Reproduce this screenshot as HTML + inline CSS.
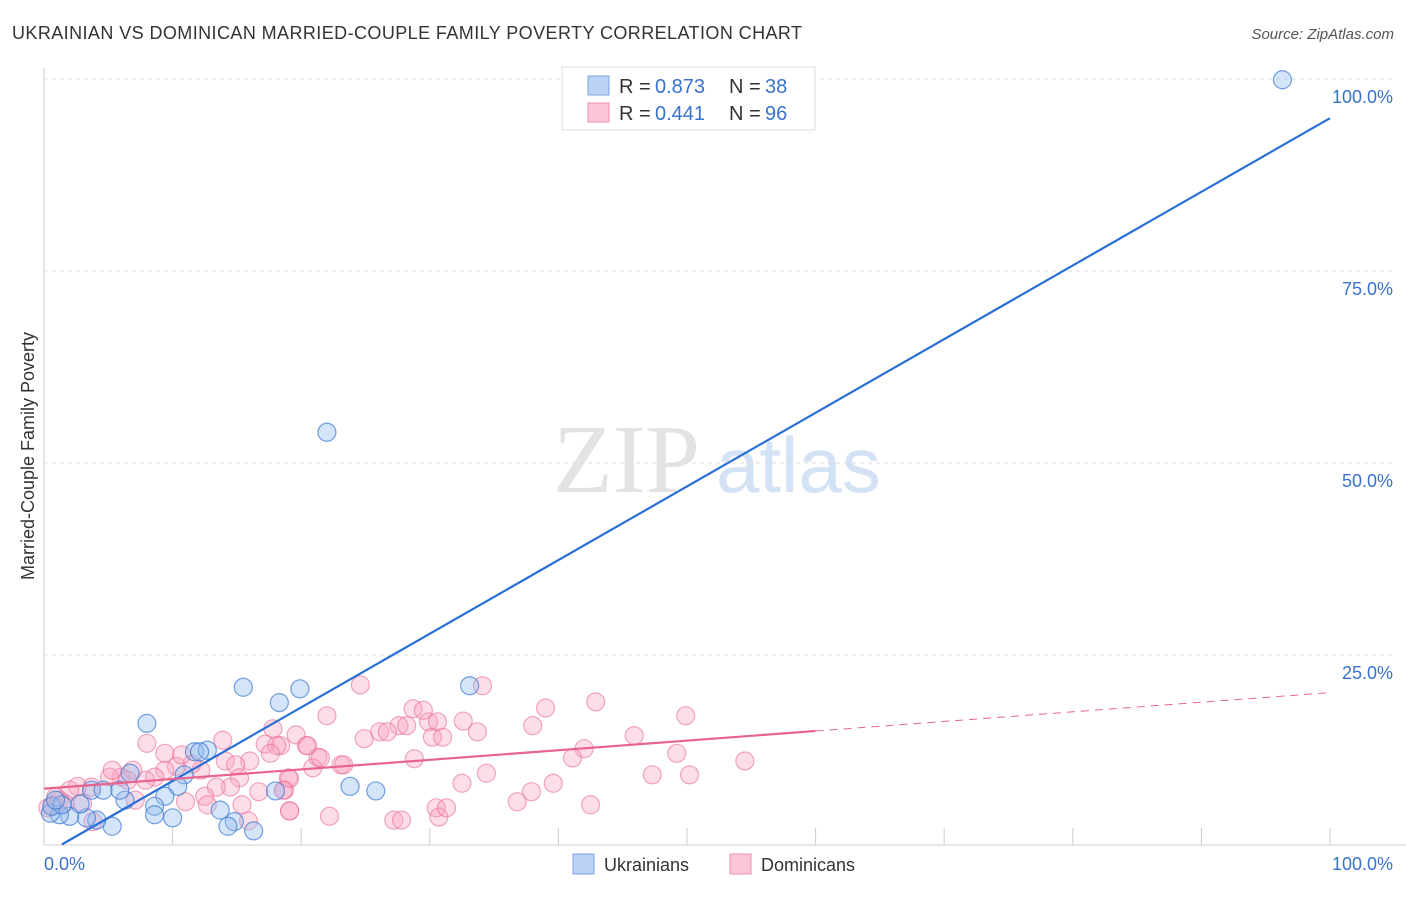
<!DOCTYPE html>
<html><head><meta charset="utf-8"><style>
body{margin:0;background:#fff;width:1406px;height:892px;overflow:hidden;font-family:"Liberation Sans",sans-serif}
</style></head><body>
<svg id="c" width="1406" height="892" xmlns="http://www.w3.org/2000/svg">
<text x="12" y="39" font-size="18" textLength="790" fill="#333">UKRAINIAN VS DOMINICAN MARRIED-COUPLE FAMILY POVERTY CORRELATION CHART</text>
<text x="1394" y="39" font-size="15" fill="#555" font-style="italic" text-anchor="end">Source: ZipAtlas.com</text>
<text transform="translate(34,456) rotate(-90)" font-size="18" fill="#333" text-anchor="middle">Married-Couple Family Poverty</text>
<g>
<text x="553" y="492" font-size="98" font-family="Liberation Serif,serif" fill="#e3e3e3">ZIP</text>
<text x="716" y="492" font-size="78" fill="#d3e2f5">atlas</text>
</g>
<g id="grid"></g><g id="axes"></g><g id="pts"></g><g id="trend"></g>
<g>
<rect x="562" y="67" width="253" height="63" fill="#fff" stroke="#ddd"/>
<rect x="588" y="76" width="21" height="19" fill="#b9d2f5" stroke="#7da6e0"/>
<rect x="588" y="103" width="21" height="19" fill="#fbc6d6" stroke="#f090ae"/>
<g font-size="20">
<text x="619" y="93" fill="#333">R =</text><text x="655" y="93" fill="#3a72d0">0.873</text>
<text x="729" y="93" fill="#333">N =</text><text x="765" y="93" fill="#3a72d0">38</text></g>
<g font-size="20">
<text x="619" y="120" fill="#333">R =</text><text x="655" y="120" fill="#3a72d0">0.441</text>
<text x="729" y="120" fill="#333">N =</text><text x="765" y="120" fill="#3a72d0">96</text></g>
</g>
<g>
<rect x="573" y="854" width="21" height="20" fill="#b9d2f5" stroke="#7da6e0"/>
<text x="604" y="871" font-size="18" fill="#333">Ukrainians</text>
<rect x="730" y="854" width="21" height="20" fill="#fbc6d6" stroke="#f090ae"/>
<text x="761" y="871" font-size="18" fill="#333">Dominicans</text>
</g>
</svg>
<script>
const yTicks=[25,50,75,100];
const yTickLabels=["25.0%","50.0%","75.0%","100.0%"];
const ukrX=[96.3,22.0,15.5,19.9,18.3,33.1,8.0,11.7,12.7,12.1,23.8,25.8,18.0,10.9,10.4,9.4,8.6,8.6,10.0,13.7,14.8,14.3,16.3,5.3,4.1,3.3,2.0,1.2,0.5,0.6,1.4,2.8,3.7,6.3,6.7,4.6,0.9,5.9];
const ukrY=[99.9,54.0,20.8,20.6,18.8,21.0,16.1,12.4,12.6,12.4,7.9,7.3,7.3,9.4,7.9,6.6,5.3,4.2,3.8,4.8,3.3,2.7,2.1,2.7,3.5,3.8,4.0,4.2,4.4,5.3,5.5,5.6,7.4,6.1,9.6,7.4,6.1,7.4];
const domX=[24.6,34.1,22.0,28.7,29.9,27.6,26.1,24.9,30.2,32.6,33.7,39.0,38.0,42.9,49.9,45.9,42.0,41.1,49.2,54.5,47.3,50.2,39.6,37.9,36.8,42.5,34.4,32.5,28.8,30.5,30.7,27.2,22.2,19.1,19.0,18.7,23.1,20.9,21.3,19.6,20.4,18.4,8.0,13.9,17.8,17.2,18.1,17.6,20.5,21.5,23.3,26.7,28.2,29.5,30.6,31.0,16.0,14.1,14.9,19.1,18.6,16.7,15.2,14.5,13.4,12.5,12.7,15.4,15.9,19.1,27.8,31.3,11.0,12.2,11.5,10.3,9.4,8.6,7.9,6.9,6.0,5.1,3.7,2.6,2.0,3.0,1.6,0.7,0.9,3.8,10.7,9.4,5.3,6.5,0.3,1.2,7.1];
const domY=[21.1,21.0,17.1,18.0,16.3,15.8,15.0,14.1,14.3,16.4,15.0,18.1,15.8,18.9,17.1,14.5,12.8,11.6,12.2,11.2,9.4,9.4,8.3,7.2,5.9,5.5,9.6,8.3,11.5,5.1,3.9,3.5,4.0,4.7,9.0,7.4,10.7,10.3,11.7,14.6,13.2,13.2,13.5,13.9,15.4,13.4,13.2,12.2,13.2,11.6,10.7,15.0,15.8,17.8,16.3,14.3,11.2,11.2,10.7,8.9,7.4,7.2,9.0,7.8,7.8,6.6,5.5,5.5,3.4,4.7,3.5,5.1,5.9,10.0,10.8,10.5,10.0,9.1,8.7,10.0,9.1,9.1,7.8,7.9,7.4,5.7,5.7,5.5,6.5,3.3,12.0,12.2,10.0,8.7,5.1,6.1,6.1];
const ukrTrend=[-1.0,0.959];
const domTrend=[7.6,0.125];
const NS="http://www.w3.org/2000/svg";
const X=v=>44+v*12.86, Y=v=>847-v*7.68;
function mk(tag,attrs,parent){const e=document.createElementNS(NS,tag);for(const k in attrs)e.setAttribute(k,attrs[k]);parent.appendChild(e);return e;}
const grid=document.getElementById('grid'),axes=document.getElementById('axes'),pts=document.getElementById('pts'),tr=document.getElementById('trend');
yTicks.forEach((t,i)=>{
  const l=mk('line',{x1:44,x2:1395,y1:Y(t),y2:Y(t),stroke:'#ddd','stroke-dasharray':'4,4'},grid);
  
  
  const tx=mk('text',{x:1393,y:Y(t)+24,'font-size':18,fill:'#3a72d0','text-anchor':'end'},grid);
  tx.textContent=yTickLabels[i];
  
  
});
const ya=mk('line',{x1:44,x2:44,y1:68,y2:845,stroke:'#ccc'},axes);


const xa=mk('line',{x1:44,x2:1406,y1:845,y2:845,stroke:'#ccc'},axes);


for(let t=10;t<=100;t+=10){
  const tk=mk('line',{x1:X(t),x2:X(t),y1:828,y2:845,stroke:'#ccc'},axes);
  
  
}
const x0=mk('text',{x:44,y:870,'font-size':18,fill:'#3a72d0'},axes);x0.textContent='0.0%';


const x1=mk('text',{x:1393,y:870,'font-size':18,fill:'#3a72d0','text-anchor':'end'},axes);x1.textContent='100.0%';


domX.forEach((v,i)=>{
  const c=mk('circle',{cx:X(v),cy:Y(domY[i]),r:9,fill:'rgba(248,160,188,0.35)',stroke:'rgba(232,110,150,0.6)','stroke-width':1.2},pts);
  
  
});
ukrX.forEach((v,i)=>{
  const c=mk('circle',{cx:X(v),cy:Y(ukrY[i]),r:9,fill:'rgba(150,190,240,0.4)',stroke:'rgba(60,120,210,0.7)','stroke-width':1.2},pts);
  
  
});
const bx0=1.4,bx1=100;
const bl=mk('line',{x1:X(bx0),y1:Y(ukrTrend[0]+ukrTrend[1]*bx0),x2:X(bx1),y2:Y(ukrTrend[0]+ukrTrend[1]*bx1),stroke:'#2a6fd6','stroke-width':2.2},tr);


const pl=mk('line',{x1:X(0),y1:Y(domTrend[0]),x2:X(60),y2:Y(domTrend[0]+domTrend[1]*60),stroke:'#e8648e','stroke-width':2.2},tr);


const pd=mk('line',{x1:X(60),y1:Y(domTrend[0]+domTrend[1]*60),x2:X(100),y2:Y(domTrend[0]+domTrend[1]*100),stroke:'#e8648e','stroke-width':1,'stroke-dasharray':'8,6'},tr);


</script>
</body></html>
